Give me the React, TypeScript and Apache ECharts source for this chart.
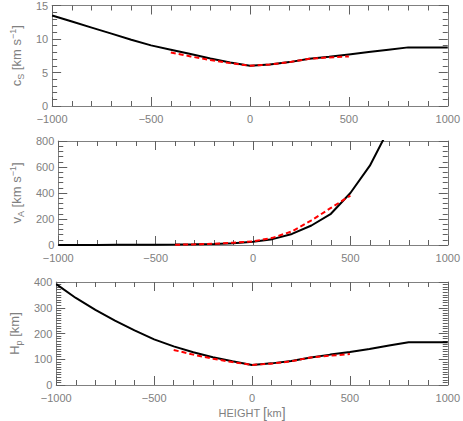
import React, { useEffect, useRef } from "react";
import * as echarts from "echarts";

const heights = [-1000, -900, -800, -700, -600, -500, -400, -300, -200, -100, 0, 100, 200, 300, 400, 500, 600, 700, 800, 900, 1000];
const csBlack = [13.5, 12.6, 11.7, 10.8, 9.9, 9.05, 8.4, 7.75, 7.1, 6.5, 6.0, 6.2, 6.55, 7.05, 7.35, 7.7, 8.05, 8.4, 8.75, 8.75, 8.75];
const vaBlack = [0, 0, 0, 1, 1, 2, 3, 5, 8, 14, 25, 45, 85, 150, 240, 400, 610, 900];
const hpBlack = [392, 338, 292, 250, 212, 177, 150, 127, 108, 92, 78, 84, 93, 107, 118, 128, 140, 153, 166, 166, 166];

const modelHeights = [-400, -300, -200, -100, 0, 100, 200, 300, 400, 500];
const csRed = [8.0, 7.4, 6.85, 6.4, 6.0, 6.2, 6.55, 7.05, 7.25, 7.4];
const vaRed = [2, 5, 10, 18, 28, 55, 105, 190, 285, 380];
const hpRed = [136, 118, 102, 89, 78, 83, 92, 107, 114, 120];

const xRange = [-1000, 1000];
const csRange = [0, 15, 5];
const vaRange = [0, 800, 200];
const hpRange = [0, 400, 100];

const GRAY = "#808080";
const TICK = "#606060";
const FONT = "Liberation Sans";

function pairs(xs: number[], ys: number[]) {
  return ys.map((y, i) => [xs[i], y]);
}

export default function App() {
  const ref = useRef<HTMLDivElement>(null);
  useEffect(() => {
    if (!ref.current) return;
    const chart = echarts.init(ref.current, null, { renderer: "svg" });
    const grids = [
      { left: 46, right: 14, top: 1, height: 105 },
      { left: 46, right: 14, top: 141, height: 104 },
      { left: 46, right: 14, top: 282, height: 104 },
    ];
    const fmt = (v: number) => String(v).replace("-", "\u2212");
    const rich = {
      a: { fontSize: 13, fontFamily: FONT, color: GRAY, lineHeight: 17 },
      sub: { fontSize: 9, fontFamily: FONT, color: GRAY, lineHeight: 10, verticalAlign: "bottom" },
      sup: { fontSize: 9, fontFamily: FONT, color: GRAY, lineHeight: 10, verticalAlign: "top" },
    };
    const xAxes: any[] = [];
    const yAxes: any[] = [];
    const yRanges = [csRange, vaRange, hpRange];
    const minorSplits = [5, 5, 10];
    const yNames = [
      "{a|c}{sub|S}{a| [km s}{sup|\u22121}{a|]}",
      "{a|v}{sub|A}{a| [km s}{sup|\u22121}{a|]}",
      "{a|H}{sub|p}{a| [km]}",
    ];
    for (let i = 0; i < 3; i++) {
      const common = {
        type: "value",
        gridIndex: i,
        min: xRange[0],
        max: xRange[1],
        interval: 500,
        axisLine: { show: true, onZero: false, lineStyle: { color: GRAY, width: 1 } },
        axisTick: { show: true, inside: true, length: 9, lineStyle: { color: TICK, width: 1 } },
        minorTick: { show: true, splitNumber: 5, length: 5, lineStyle: { color: TICK, width: 1 } },
        splitLine: { show: false },
      };
      xAxes.push({
        ...common,
        position: "bottom",
        axisLabel: { show: true, margin: 7, color: GRAY, fontSize: 11, fontFamily: FONT, formatter: fmt },
        ...(i === 2
          ? {
              name: "HEIGHT {b|[}km{b|]}",
              nameLocation: "middle",
              nameGap: 21,
              nameTextStyle: { color: GRAY, fontSize: 11, fontFamily: FONT, rich: { b: { fontSize: 14, color: GRAY, fontFamily: FONT } } },
            }
          : {}),
      });
      xAxes.push({ ...common, position: "top", axisLabel: { show: false } });
      const yr = yRanges[i];
      const ycommon = {
        type: "value",
        gridIndex: i,
        min: yr[0],
        max: yr[1],
        interval: yr[2],
        axisLine: { show: true, onZero: false, lineStyle: { color: GRAY, width: 1 } },
        axisTick: { show: true, inside: true, length: 9, lineStyle: { color: TICK, width: 1 } },
        minorTick: { show: true, splitNumber: minorSplits[i], length: 5, lineStyle: { color: TICK, width: 1 } },
        splitLine: { show: false },
      };
      yAxes.push({
        ...ycommon,
        position: "left",
        name: yNames[i],
        nameLocation: "middle",
        nameRotate: 90,
        nameGap: 25,
        nameTextStyle: { rich },
        axisLabel: {
          show: true,
          margin: 4,
          color: GRAY,
          fontSize: 11,
          fontFamily: FONT,
          formatter: fmt,
        },
      });
      yAxes.push({ ...ycommon, position: "right", axisLabel: { show: false } });
    }
    const blackData = [csBlack, vaBlack, hpBlack];
    const redData = [csRed, vaRed, hpRed];
    const series: any[] = [];
    for (let i = 0; i < 3; i++) {
      series.push({
        type: "line",
        xAxisIndex: i * 2,
        yAxisIndex: i * 2,
        data: pairs(heights, blackData[i]),
        showSymbol: false,
        clip: true,
        lineStyle: { color: "#000", width: 2 },
        z: 2,
      });
      series.push({
        type: "line",
        xAxisIndex: i * 2,
        yAxisIndex: i * 2,
        data: pairs(modelHeights, redData[i]),
        showSymbol: false,
        clip: true,
        lineStyle: { color: "#ff0000", width: 2, type: [5, 3] },
        z: 3,
      });
    }
    chart.setOption({
      animation: false,
      backgroundColor: "#ffffff",
      grid: grids,
      xAxis: xAxes,
      yAxis: yAxes,
      series,
    });
    return () => chart.dispose();
  }, []);
  return <div ref={ref} style={{ position: "fixed", left: 0, top: 0, width: 463, height: 421 }} />;
}
